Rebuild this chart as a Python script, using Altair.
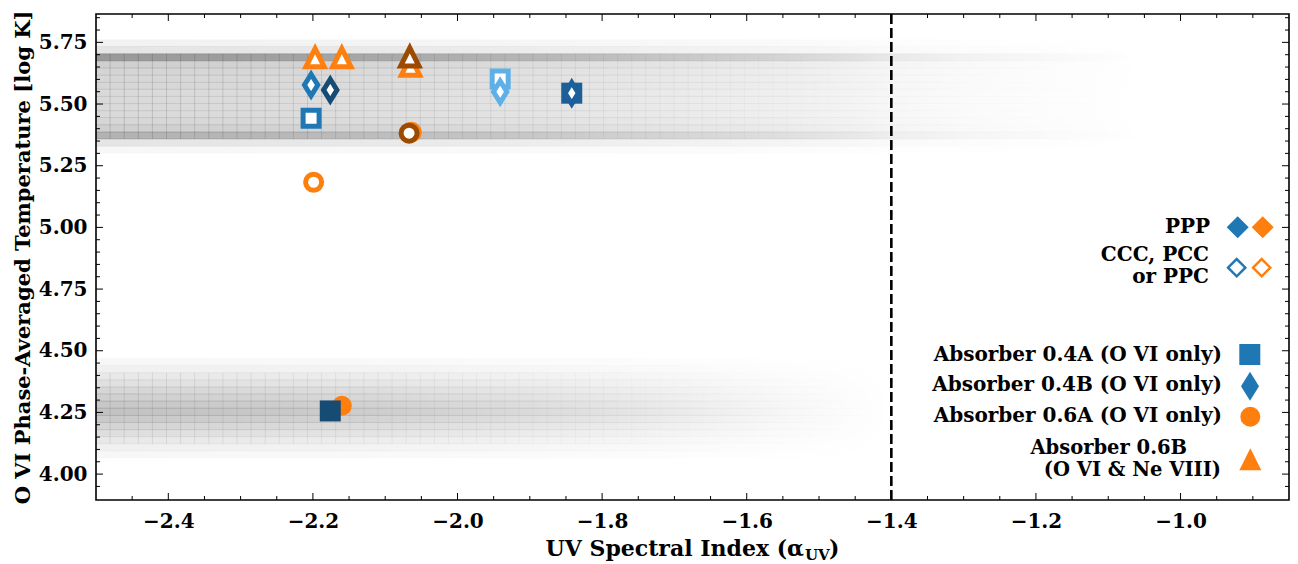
import altair as alt
import pandas as pd

# ---------------- data ----------------
x_major = [-2.4, -2.2, -2.0, -1.8, -1.6, -1.4, -1.2, -1.0]
x_minor = [-2.45, -2.35, -2.3, -2.25, -2.15, -2.1, -2.05, -1.95, -1.9, -1.85,
           -1.75, -1.7, -1.65, -1.55, -1.5, -1.45, -1.35, -1.3, -1.25, -1.15,
           -1.1, -1.05, -0.95, -0.9]
y_major = [4.0, 4.25, 4.5, 4.75, 5.0, 5.25, 5.5, 5.75]
y_minor = [3.95, 4.05, 4.1, 4.15, 4.2, 4.3, 4.35, 4.4, 4.45, 4.55, 4.6, 4.65,
           4.7, 4.8, 4.85, 4.9, 4.95, 5.05, 5.1, 5.15, 5.2, 5.3, 5.35, 5.4,
           5.45, 5.55, 5.6, 5.65, 5.7, 5.8, 5.85]
alpha_cut = -1.4

# background 2D histogram: upper band rows (log T edges) and darkness at left edge
up_y0 = [5.301, 5.329, 5.358, 5.387, 5.416, 5.445, 5.473, 5.502, 5.531, 5.560,
         5.588, 5.617, 5.646, 5.675, 5.704, 5.733]
up_y1 = [5.329, 5.358, 5.387, 5.416, 5.445, 5.473, 5.502, 5.531, 5.560, 5.588,
         5.617, 5.646, 5.675, 5.704, 5.733, 5.761]
up_dark = [0.03, 0.10, 0.30, 0.19, 0.16, 0.15, 0.15, 0.15, 0.15, 0.16,
           0.16, 0.17, 0.19, 0.40, 0.10, 0.05]
up_x_range = [-2.5, -1.05]
up_fade_x = [-2.5, -2.3, -2.1, -1.9, -1.7, -1.55, -1.45, -1.4, -1.3, -1.2, -1.1, -1.05]
up_fade_a = [1.0, 0.95, 0.85, 0.72, 0.55, 0.42, 0.30, 0.22, 0.13, 0.08, 0.03, 0.0]

# lower band
low_y0 = [4.065, 4.094, 4.123, 4.152, 4.180, 4.209, 4.238, 4.267, 4.296, 4.325,
          4.353, 4.382, 4.411, 4.440]
low_y1 = [4.094, 4.123, 4.152, 4.180, 4.209, 4.238, 4.267, 4.296, 4.325, 4.353,
          4.382, 4.411, 4.440, 4.469]
low_dark = [0.03, 0.06, 0.09, 0.13, 0.17, 0.21, 0.24, 0.22, 0.19, 0.16,
            0.12, 0.09, 0.06, 0.03]
low_x_range = [-2.5, -1.40]
low_fade_x = [-2.5, -2.3, -2.1, -1.9, -1.75, -1.65, -1.55, -1.45, -1.40]
low_fade_a = [1.0, 0.92, 0.80, 0.60, 0.42, 0.28, 0.15, 0.05, 0.0]

# histogram bin edges in alpha_UV (cell width ~0.0195)
hist_x_edges = [round(-2.5 + 0.0195 * k, 4) for k in range(1, 57)]

# absorber points
pt_x = [-2.197, -2.160, -2.065, -2.066, -2.2025, -2.176, -2.2025, -2.064, -2.067,
        -2.199, -1.941, -1.941, -1.842, -1.842, -2.160, -2.176]
pt_y = [5.688, 5.688, 5.654, 5.691, 5.577, 5.557, 5.442, 5.386, 5.382,
        5.183, 5.602, 5.550, 5.544, 5.544, 4.277, 4.256]
pt_marker = ["tri", "tri", "tri", "tri", "thin", "thin", "sq", "circ", "circ",
             "circ", "sq", "thin", "sq", "thin", "circ", "sq"]
pt_color = ["orange", "orange", "orange", "brown", "blue", "navy", "blue", "orange", "brown",
            "orange", "light", "light", "mid", "mid", "orange", "navy"]
pt_filled = [False, False, False, False, False, False, False, False, False,
             False, False, False, True, False, True, True]

legend_absorbers = ["Absorber 0.4A (O VI only)", "Absorber 0.4B (O VI only)",
                    "Absorber 0.6A (O VI only)"]

# ---------------- styles ----------------
FONT = "DejaVu Serif"
W, H = 1193, 486
PALETTE = {"orange": "#ff7f0e", "brown": "#9c4a00", "blue": "#1f77b4",
           "navy": "#164b73", "light": "#5fb0e6", "mid": "#1c5f99"}
TRI = "M0,-1L1,1L-1,1Z"
THIN = "M0,-1L0.62,0L0,1L-0.62,0Z"
HOLLOW = {"tri": (TRI, 335), "thin": (THIN, 462), "sq": ("square", 256), "circ": ("circle", 256)}
FILLED = {"tri": (TRI, 441), "thin": (THIN, 700), "sq": ("square", 441), "circ": ("circle", 400)}

XS = alt.Scale(domain=[-2.5, -0.85], nice=False, zero=False)
YS = alt.Scale(domain=[3.895, 5.865], nice=False, zero=False)
XAX = alt.Axis(values=x_major, format=".1f", ticks=False, domain=False, grid=False,
               labelFont=FONT, labelFontSize=20, labelFontWeight="bold", labelColor="black",
               labelPadding=11, title=None, labelOverlap=False)
YAX = alt.Axis(values=y_major, format=".2f", ticks=False, domain=False, grid=False,
               labelFont=FONT, labelFontSize=20, labelFontWeight="bold", labelColor="black",
               labelPadding=9, title="O VI Phase-Averaged Temperature [log K]",
               titleFont=FONT, titleFontSize=21, titleFontWeight="bold", titleColor="black",
               titleX=-73, titleY=H / 2, titleAngle=270, titleBaseline="middle",
               titleAlign="center", labelOverlap=False)


def X(f):
    return alt.X(f, type="quantitative", scale=XS, axis=XAX)


def Y(f):
    return alt.Y(f, type="quantitative", scale=YS, axis=YAX)


one = pd.DataFrame({"d": [0]})


def grad(xr, fx, fa, mult=1.0):
    span = xr[1] - xr[0]
    return alt.Gradient(
        gradient="linear", x1=0, x2=1, y1=0, y2=0,
        stops=[alt.GradientStop(offset=(a - xr[0]) / span, color=f"rgba(0,0,0,{round(b * mult, 4)})")
               for a, b in zip(fx, fa)])


def band(y0, y1, dark, xr, fx, fa):
    df = pd.DataFrame({"y0": y0, "y1": y1, "dark": dark})
    df["x0"] = xr[0]
    df["x1"] = xr[1]
    return alt.Chart(df).mark_rect(
        fill=grad(xr, fx, fa), stroke=grad(xr, fx, fa, 0.5), strokeWidth=0.7, clip=True
    ).encode(
        x=X("x0"), x2="x1", y=Y("y0"), y2="y1",
        fillOpacity=alt.FillOpacity("dark:Q", scale=None),
        strokeOpacity=alt.StrokeOpacity("dark:Q", scale=None),
    )


layers = []
layers.append(band(up_y0, up_y1, up_dark, up_x_range, up_fade_x, up_fade_a))
layers.append(band(low_y0, low_y1, low_dark, low_x_range, low_fade_x, low_fade_a))

# vertical cell edges inside the bands
grid_rows = []
for e in hist_x_edges:
    if e < -1.45:
        grid_rows.append({"x": e, "y0": up_y0[2], "y1": up_y1[13], "band": "u"})
    if e < -1.6:
        grid_rows.append({"x": e, "y0": low_y0[2], "y1": low_y1[11], "band": "l"})
grid_df = pd.DataFrame(grid_rows)
layers.append(
    alt.Chart(grid_df).transform_calculate(
        op="max(0, (datum.band == 'u' ? 0.18 : 0.12) * (1 - (datum.x + 2.5) / (datum.band == 'u' ? 1.1 : 0.95)))"
    ).mark_rule(color="black", strokeWidth=0.8).encode(
        x=X("x"), y=Y("y0"), y2="y1", opacity=alt.Opacity("op:Q", scale=None))
)

# dashed line
layers.append(
    alt.Chart(pd.DataFrame({"x": [alpha_cut]})).mark_rule(
        color="black", strokeWidth=2.6, strokeDash=[10, 4]).encode(x=X("x"))
)

# points
rows = []
for x, y, m, c, f in zip(pt_x, pt_y, pt_marker, pt_color, pt_filled):
    shp, sz = (FILLED if f else HOLLOW)[m]
    rows.append({"x": x, "y": y, "shape": shp, "size": sz,
                 "fill": PALETTE[c] if f else "white", "stroke": PALETTE[c],
                 "sw": 0 if f else 5})
pts = pd.DataFrame(rows)
layers.append(
    alt.Chart(pts).mark_point(filled=True, opacity=1, strokeJoin="miter", strokeMiterLimit=10).encode(
        x=X("x"), y=Y("y"),
        shape=alt.Shape("shape:N", scale=None),
        size=alt.Size("size:Q", scale=None),
        fill=alt.Fill("fill:N", scale=None),
        stroke=alt.Stroke("stroke:N", scale=None),
        strokeWidth=alt.StrokeWidth("sw:Q", scale=None),
    )
)

# ticks (inward, all four sides)
def xticks(vals, ln):
    df = pd.DataFrame({"x": vals})
    b = alt.Chart(df).mark_rule(color="black", strokeWidth=1).encode(
        x=X("x"), y=alt.value(H), y2=alt.value(H - ln))
    t = alt.Chart(df).mark_rule(color="black", strokeWidth=1).encode(
        x=X("x"), y=alt.value(0), y2=alt.value(ln))
    return [b, t]


def yticks(vals, ln):
    df = pd.DataFrame({"y": vals})
    l = alt.Chart(df).mark_rule(color="black", strokeWidth=1).encode(
        y=Y("y"), x=alt.value(0), x2=alt.value(ln))
    r = alt.Chart(df).mark_rule(color="black", strokeWidth=1).encode(
        y=Y("y"), x=alt.value(W), x2=alt.value(W - ln))
    return [l, r]


layers += xticks(x_major, 7) + xticks(x_minor, 4) + yticks(y_major, 7) + yticks(y_minor, 4)


# legend
def text(label, px, py, align="right", size=20, baseline="middle"):
    return alt.Chart(one).mark_text(
        text=label, font=FONT, fontSize=size, fontWeight="bold", color="black",
        align=align, baseline=baseline).encode(x=alt.value(px), y=alt.value(py))


def sym(shape, size, px, py, fill, stroke, sw):
    return alt.Chart(one).mark_point(
        shape=shape, size=size, filled=True, fill=fill, stroke=stroke, strokeWidth=sw,
        opacity=1, strokeJoin="miter").encode(x=alt.value(px), y=alt.value(py))


BLUE, ORANGE = PALETTE["blue"], PALETTE["orange"]
layers += [
    text("PPP", 1114, 213),
    sym("diamond", 484, 1141.7, 213.3, BLUE, BLUE, 0),
    sym("diamond", 484, 1166.7, 213.3, ORANGE, ORANGE, 0),
    text("CCC, PCC", 1113, 241),
    text("or PPC", 1113, 263),
    sym("diamond", 300, 1140.7, 253.7, "white", BLUE, 2.4),
    sym("diamond", 300, 1165.7, 253.7, "white", ORANGE, 2.4),
    text(legend_absorbers[0], 1126, 341),
    sym("square", 441, 1153.8, 340.5, BLUE, BLUE, 0),
    text(legend_absorbers[1], 1126, 371),
    sym(THIN, 841, 1154, 372.3, BLUE, BLUE, 0),
    text(legend_absorbers[2], 1126, 402),
    sym("circle", 400, 1154.3, 402.7, ORANGE, ORANGE, 0),
    text("Absorber 0.6B", 1091, 433.5, size=19.5),
    text("(O VI & Ne VIII)", 1125, 455.5, size=19.5),
    sym(TRI, 484, 1154.3, 445.3, ORANGE, ORANGE, 0),
]

# x-axis title with subscript
layers += [
    text("UV Spectral Index (α", 708, 542, align="right", size=22, baseline="alphabetic"),
    text("UV", 709, 546, align="left", size=15, baseline="alphabetic"),
    text(")", 733, 542, align="left", size=22, baseline="alphabetic"),
]

chart = alt.layer(*layers).properties(
    width=W, height=H,
    padding={"left": 88, "top": 6, "right": 1, "bottom": 64},
    autosize=alt.AutoSizeParams(type="none"),
    background="white",
).configure_view(stroke="black", strokeWidth=1.6)

chart.save("out.html", embed_options={"renderer": "svg", "actions": False})
